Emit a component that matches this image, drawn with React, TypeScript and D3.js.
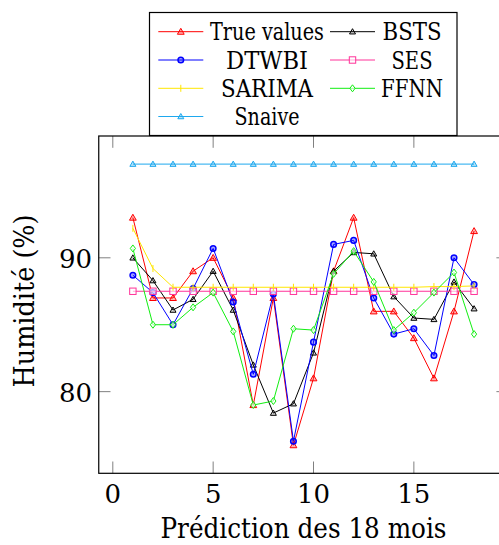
import React from "react";
import * as d3 from "d3";

const months = d3.range(1, 19);
const trueValues = [93, 87, 87, 89, 90, 87, 79, 87, 76, 81, 89, 93, 86, 86, 84, 81, 86, 92];
const bsts = [90, 88.3, 86.1, 86.9, 89, 86.1, 82, 78.4, 79.1, 82.9, 89.0, 90.4, 90.3, 87.1, 85.5, 85.4, 88.2, 86.2];
const dtwbi = [88.7, 87.4, 85, 87.7, 90.7, 86.7, 81.3, 87.3, 76.3, 83.7, 91.0, 91.3, 87.0, 84.3, 84.7, 82.7, 90.0, 88.0];
const ses = [87.5, 87.5, 87.5, 87.5, 87.5, 87.5, 87.5, 87.5, 87.5, 87.5, 87.5, 87.5, 87.5, 87.5, 87.5, 87.5, 87.5, 87.5];
const sarima = [92.2, 89.2, 87.8, 87.8, 87.8, 87.8, 87.8, 87.8, 87.8, 87.8, 87.8, 87.8, 87.8, 87.8, 87.8, 87.85, 87.85, 87.9];
const ffnn = [90.7, 85, 85, 86.3, 87.4, 84.5, 79, 79.3, 84.7, 84.6, 88.8, 90.5, 88.2, 84.6, 85.9, 87.4, 88.9, 84.3];
const snaive = [97, 97, 97, 97, 97, 97, 97, 97, 97, 97, 97, 97, 97, 97, 97, 97, 97, 97];

const xTicks = [0, 5, 10, 15];
const yTicks = [80, 90];

type Mark = "tri" | "circ" | "bar" | "sq" | "diam" | "tri2" | "tri3";
const series: { name: string; values: number[]; color: string; mark: Mark }[] = [
  { name: "True values", values: trueValues, color: "#ff0000", mark: "tri" },
  { name: "BSTS", values: bsts, color: "#000000", mark: "tri2" },
  { name: "DTWBI", values: dtwbi, color: "#0000ff", mark: "circ" },
  { name: "SES", values: ses, color: "#ff3399", mark: "sq" },
  { name: "SARIMA", values: sarima, color: "#ffe600", mark: "bar" },
  { name: "FFNN", values: ffnn, color: "#11ee11", mark: "diam" },
  { name: "Snaive", values: snaive, color: "#1ea8ee", mark: "tri3" },
];

const legendWidths: Record<string, number> = {
  "True values": 114,
  DTWBI: 82,
  SARIMA: 92,
  Snaive: 65,
  BSTS: 59,
  SES: 41,
  FFNN: 62,
};

const FONT = "DejaVu Serif";
const ts = (size: number): React.CSSProperties => ({ fontFamily: FONT, fontSize: size });

function Marker({ x, y, color, mark }: { x: number; y: number; color: string; mark: Mark }) {
  switch (mark) {
    case "tri":
    case "tri2":
    case "tri3": {
      const s = mark === "tri" ? 3.4 : 3;
      const p = `${x},${y - s} ${x + s},${y + s * 0.75} ${x - s},${y + s * 0.75}`;
      return <polygon points={p} fill={color} fillOpacity={mark === "tri2" ? 0.15 : 0.3} stroke={color} strokeWidth={1} />;
    }
    case "circ":
      return <circle cx={x} cy={y} r={2.8} fill={color} fillOpacity={0.35} stroke={color} strokeWidth={1.5} />;
    case "bar":
      return <line x1={x} x2={x} y1={y - 3.5} y2={y + 3.5} stroke={color} strokeWidth={1} />;
    case "sq":
      return <rect x={x - 3.2} y={y - 3.2} width={6.4} height={6.4} fill="white" fillOpacity={0.6} stroke={color} strokeWidth={1} />;
    case "diam": {
      const p = `${x},${y - 3.5} ${x + 2.6},${y} ${x},${y + 3.5} ${x - 2.6},${y}`;
      return <polygon points={p} fill="white" fillOpacity={0.6} stroke={color} strokeWidth={1} />;
    }
  }
  return null;
}

export default function App() {
  const W = 499;
  const H = 545;
  const x = d3.scaleLinear().domain([-0.7, 19.7]).range([98.75, 508.2]);
  const y = d3.scaleLinear().domain([73.9, 99.1]).range([473.3, 136]);
  const line = d3
    .line<number>()
    .x((_, i) => x(months[i]))
    .y((d) => y(d));

  const legendCol1 = ["True values", "DTWBI", "SARIMA", "Snaive"];
  const legendCol2 = ["BSTS", "SES", "FFNN"];
  const rowY = [31.7, 60, 88.3, 116.5];
  const byName = (n: string) => series.find((s) => s.name === n)!;

  const legendEntry = (name: string, row: number, lx0: number, lx1: number, tx: number) => {
    const s = byName(name);
    const cy = rowY[row];
    return (
      <g key={name}>
        <line x1={lx0} x2={lx1} y1={cy} y2={cy} stroke={s.color} strokeWidth={1} />
        <Marker x={(lx0 + lx1) / 2} y={cy} color={s.color} mark={s.mark} />
        <text
          x={tx}
          y={cy + 8.5}
          textAnchor="middle"
          style={ts(24.5)}
          textLength={legendWidths[name]}
          lengthAdjust="spacingAndGlyphs"
          fill="#000"
        >
          {name}
        </text>
      </g>
    );
  };

  return (
    <svg width={W} height={H} style={{ position: "absolute", left: 0, top: 0, background: "white" }}>
      <rect x={0} y={0} width={W} height={H} fill="white" />
      <defs>
        <clipPath id="plotclip">
          <rect x={x.range()[0]} y={136} width={x.range()[1] - x.range()[0]} height={473.3 - 136} />
        </clipPath>
      </defs>
      {xTicks.map((t) => (
        <g key={"xt" + t}>
          <line x1={x(t)} x2={x(t)} y1={473.3} y2={461.5} stroke="#808080" strokeWidth={1} />
          <line x1={x(t)} x2={x(t)} y1={136} y2={147.8} stroke="#808080" strokeWidth={1} />
          <text x={x(t)} y={503} textAnchor="middle" style={ts(26)} fill="#000">
            {t}
          </text>
        </g>
      ))}
      {yTicks.map((t) => (
        <g key={"yt" + t}>
          <line x1={98.75} x2={110.5} y1={y(t)} y2={y(t)} stroke="#808080" strokeWidth={1} />
          <line x1={508.2} x2={496.4} y1={y(t)} y2={y(t)} stroke="#808080" strokeWidth={1} />
          <text x={92} y={y(t) + 10} textAnchor="end" style={ts(26)} fill="#000">
            {t}
          </text>
        </g>
      ))}
      <g clipPath="url(#plotclip)">
        {series.map((s) => (
          <g key={s.name}>
            <path d={line(s.values) || ""} fill="none" stroke={s.color} strokeWidth={1} />
            {s.values.map((v, i) => (
              <Marker key={i} x={x(months[i])} y={y(v)} color={s.color} mark={s.mark} />
            ))}
          </g>
        ))}
      </g>
      <rect x={98.75} y={136} width={508.2 - 98.75} height={473.3 - 136} fill="none" stroke="#000" strokeWidth={1.2} />
      <text
        x={303.5}
        y={538}
        textAnchor="middle"
        style={ts(27)}
        textLength={286}
        lengthAdjust="spacingAndGlyphs"
        fill="#000"
      >
        Prédiction des 18 mois
      </text>
      <text
        transform={`translate(34, 301) rotate(-90)`}
        textAnchor="middle"
        style={ts(27)}
        textLength={173}
        lengthAdjust="spacingAndGlyphs"
        fill="#000"
      >
        Humidité (%)
      </text>
      <rect x={149.5} y={12.5} width={307.5} height={123} fill="white" stroke="#000" strokeWidth={1.2} />
      {legendCol1.map((n, i) => legendEntry(n, i, 158.3, 203.3, 267))}
      {legendCol2.map((n, i) => legendEntry(n, i, 330, 375, 412))}
    </svg>
  );
}
